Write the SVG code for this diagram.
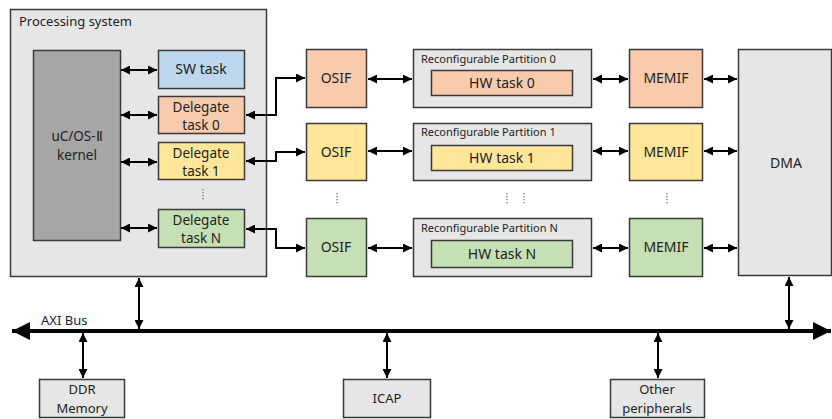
<svg xmlns="http://www.w3.org/2000/svg" width="832" height="419" viewBox="0 0 832 419">
<defs>
<marker id="ah" viewBox="0 0 10 10" refX="10" refY="5" markerWidth="9" markerHeight="9" markerUnits="userSpaceOnUse" orient="auto-start-reverse">
<path d="M0,0 L10,5 L0,10 z" fill="#000"/>
</marker>
<marker id="ahb" viewBox="0 0 10 10" refX="10" refY="5" markerWidth="20" markerHeight="18" markerUnits="userSpaceOnUse" orient="auto-start-reverse">
<path d="M0,0 L10,5 L0,10 z" fill="#000"/>
</marker>
<style>
text{font-family:"Noto Sans","Open Sans","Liberation Sans",sans-serif;fill:#222;}
.lbl{font-size:14px;text-anchor:middle;}
.two{font-size:13.5px;text-anchor:middle;}
.sm{font-size:11px;}
.box{stroke:#3a3a3a;stroke-width:1.5;}
.gray{fill:#e7e6e6;}
.dark{fill:#a6a6a6;}
.blue{fill:#bdd7ee;}
.orange{fill:#f8cbad;}
.yellow{fill:#ffe699;}
.green{fill:#c5e0b4;}
.conn{fill:none;stroke:#000;stroke-width:2;marker-start:url(#ah);marker-end:url(#ah);}
.dots{stroke:#666;stroke-width:1.2;stroke-dasharray:1.2 1.8;}
</style>
</defs>

<g id="processing-system">
<rect class="box gray" x="10.5" y="9.5" width="256" height="267"/>
<text x="19" y="26" style="font-size:13px">Processing system</text>
</g>
<g id="kernel">
<rect class="box dark" x="33.5" y="50.5" width="87" height="190"/>
<text class="two" x="77" y="141">uC/OS-Ⅱ</text>
<text class="two" x="77" y="159.5">kernel</text>
</g>
<g id="sw-task">
<rect class="box blue" x="158.5" y="50.5" width="86" height="38"/>
<text class="lbl" x="201" y="74">SW task</text>
</g>
<g id="delegate-0">
<rect class="box orange" x="158.5" y="96.5" width="86" height="37"/>
<text class="two" x="201" y="111.5">Delegate</text>
<text class="two" x="201" y="130">task 0</text>
</g>
<g id="delegate-1">
<rect class="box yellow" x="158.5" y="142.5" width="86" height="37"/>
<text class="two" x="201" y="157.5">Delegate</text>
<text class="two" x="201" y="176">task 1</text>
</g>
<g id="delegate-n">
<rect class="box green" x="158.5" y="209.5" width="86" height="38"/>
<text class="two" x="201" y="224.5">Delegate</text>
<text class="two" x="201" y="243">task N</text>
</g>

<g id="osif-0">
<rect class="box orange" x="306.5" y="49.5" width="60" height="58"/>
<text class="lbl" x="336" y="83">OSIF</text>
</g>
<g id="osif-1">
<rect class="box yellow" x="306.5" y="123.5" width="60" height="57"/>
<text class="lbl" x="336" y="157">OSIF</text>
</g>
<g id="osif-n">
<rect class="box green" x="306.5" y="218.5" width="60" height="58"/>
<text class="lbl" x="336" y="252">OSIF</text>
</g>

<g id="partition-0">
<rect class="box gray" x="413.5" y="49.5" width="178" height="58"/>
<text class="sm" x="421" y="63">Reconfigurable Partition 0</text>
<rect class="box orange" x="431.5" y="70.5" width="141" height="25"/>
<text class="lbl" x="502" y="88">HW task 0</text>
</g>
<g id="partition-1">
<rect class="box gray" x="413.5" y="123.5" width="178" height="57"/>
<text class="sm" x="421" y="136">Reconfigurable Partition 1</text>
<rect class="box yellow" x="431.5" y="145.5" width="141" height="25"/>
<text class="lbl" x="502" y="163">HW task 1</text>
</g>
<g id="partition-n">
<rect class="box gray" x="413.5" y="218.5" width="178" height="58"/>
<text class="sm" x="421" y="232">Reconfigurable Partition N</text>
<rect class="box green" x="431.5" y="240.5" width="141" height="27"/>
<text class="lbl" x="502" y="259">HW task N</text>
</g>

<g id="memif-0">
<rect class="box orange" x="629.5" y="49.5" width="73" height="58"/>
<text class="lbl" x="666" y="83">MEMIF</text>
</g>
<g id="memif-1">
<rect class="box yellow" x="629.5" y="123.5" width="73" height="57"/>
<text class="lbl" x="666" y="157">MEMIF</text>
</g>
<g id="memif-n">
<rect class="box green" x="629.5" y="218.5" width="73" height="58"/>
<text class="lbl" x="666" y="252">MEMIF</text>
</g>

<g id="dma">
<rect class="box gray" x="738.5" y="49.5" width="93" height="226"/>
<text class="lbl" x="786" y="168">DMA</text>
</g>

<g id="ddr">
<rect class="box gray" x="39.5" y="379.5" width="85" height="38"/>
<text class="lbl" x="82" y="394" style="font-size:13px">DDR</text>
<text class="lbl" x="82" y="412.5" style="font-size:13px">Memory</text>
</g>
<g id="icap">
<rect class="box gray" x="343.5" y="379.5" width="87" height="38"/>
<text class="lbl" x="387" y="403" style="font-size:13px">ICAP</text>
</g>
<g id="other">
<rect class="box gray" x="610.5" y="379.5" width="94" height="38"/>
<text class="lbl" x="657" y="394" style="font-size:13px">Other</text>
<text class="lbl" x="657" y="412.5" style="font-size:13px">peripherals</text>
</g>

<g id="dots">
<line class="dots" x1="203" y1="189" x2="203" y2="201"/>
<line class="dots" x1="337" y1="193" x2="337" y2="205"/>
<line class="dots" x1="507" y1="193" x2="507" y2="205"/>
<line class="dots" x1="524" y1="193" x2="524" y2="205"/>
<line class="dots" x1="667" y1="193" x2="667" y2="205"/>
</g>

<g id="connectors">
<line class="conn" x1="121" y1="70" x2="157" y2="70"/>
<line class="conn" x1="121" y1="115" x2="157" y2="115"/>
<line class="conn" x1="121" y1="162" x2="157" y2="162"/>
<line class="conn" x1="121" y1="228" x2="157" y2="228"/>
<polyline class="conn" points="246,115 276,115 276,78 305,78"/>
<polyline class="conn" points="246,161 276,161 276,152 305,152"/>
<polyline class="conn" points="246,229 276,229 276,248 305,248"/>
<line class="conn" x1="368" y1="79" x2="412" y2="79"/>
<line class="conn" x1="368" y1="151" x2="412" y2="151"/>
<line class="conn" x1="368" y1="248" x2="412" y2="248"/>
<line class="conn" x1="593" y1="79" x2="628" y2="79"/>
<line class="conn" x1="593" y1="151" x2="628" y2="151"/>
<line class="conn" x1="593" y1="248" x2="628" y2="248"/>
<line class="conn" x1="704" y1="79" x2="737" y2="79"/>
<line class="conn" x1="704" y1="151" x2="737" y2="151"/>
<line class="conn" x1="704" y1="248" x2="737" y2="248"/>
<line id="axi-bus" x1="12" y1="331" x2="831" y2="331" style="stroke:#000;stroke-width:4;marker-start:url(#ahb);marker-end:url(#ahb)"/>
<text x="41" y="325" style="font-size:13px">AXI Bus</text>
<line class="conn" x1="139" y1="278" x2="139" y2="329"/>
<line class="conn" x1="789" y1="277" x2="789" y2="329"/>
<line class="conn" x1="83" y1="333" x2="83" y2="378"/>
<line class="conn" x1="387" y1="333" x2="387" y2="378"/>
<line class="conn" x1="658" y1="333" x2="658" y2="378"/>
</g>
</svg>
